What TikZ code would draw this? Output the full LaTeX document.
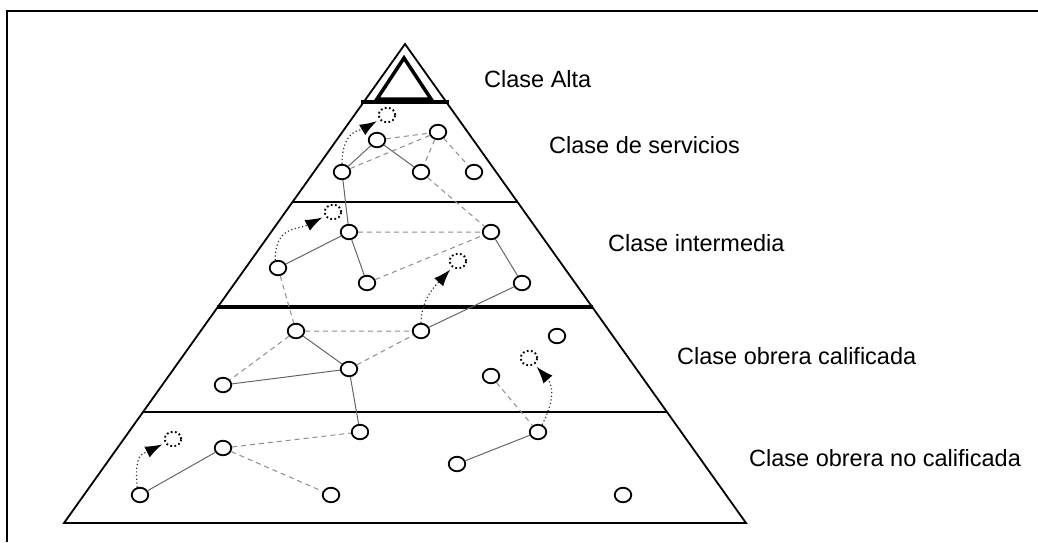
\documentclass[tikz,border=0pt]{standalone}
\usepackage{fontspec}
\setmainfont{Liberation Sans}
\usetikzlibrary{shapes.geometric, arrows.meta}
\tikzstyle{pers} = [draw,ellipse,line width=1.8pt,minimum width=16.5pt,minimum height=14.5pt,inner sep=0pt]
\tikzstyle{ghost} = [pers,line width=1.9pt,dash pattern=on 1.7pt off 2.5pt]
\tikzstyle{tie} = [draw=black!60,line width=1pt]
\tikzstyle{weak} = [draw=black!45,line width=1pt,dash pattern=on 5pt off 4pt]
\tikzstyle{move} = [draw=black!80,line width=1.2pt,dash pattern=on 1.2pt off 2.5pt,-{Latex[length=17pt,width=12pt,black]},shorten >=3pt]
\tikzstyle{clase} = [anchor=base west,inner sep=0pt,font=\fontsize{23.5}{28}\selectfont]

\begin{document}
\begin{tikzpicture}[x=1pt,y=-1pt]
  \useasboundingbox (0,0) rectangle (1038,542);
  % frame
  \draw[line width=2.4pt] (7,542)--(7,11)--(1038,11);
  % pyramid and strata
  \draw[line width=1.8pt] (405,44)--(746,523)--(64,523)--cycle;
  \draw[line width=3.5pt] (404,58)--(431,99)--(377,99)--cycle;
  \draw[line width=4pt] (361,102)--(449,102);
  \draw[line width=2pt] (293,201.5)--(517,201.5);
  \draw[line width=4pt] (217,307)--(593,307);
  \draw[line width=2pt] (143,411.5)--(667,411.5);
  % labels
  \node[clase] (alta) at (484,87.3) {Clase Alta};
  \node[clase] (serv) at (549,153) {Clase de servicios};
  \node[clase] (inter) at (608,251) {Clase intermedia};
  \node[clase] (calif) at (677,364) {Clase obrera calificada};
  \node[clase] (nocalif) at (749,466) {Clase obrera no calificada};
  % servicios
  \node[ghost] (g1) at (387,115) {};
  \node[pers] (s1) at (377,140) {};
  \node[pers] (s2) at (438,132) {};
  \node[pers] (s3) at (342,172) {};
  \node[pers] (s4) at (421,172) {};
  \node[pers] (s5) at (474,172) {};
  % intermedia
  \node[ghost] (g2) at (333,212) {};
  \node[pers] (i1) at (278,268) {};
  \node[pers] (i2) at (349,232) {};
  \node[pers] (i3) at (491,232) {};
  \node[pers] (i4) at (367,283) {};
  \node[pers] (i5) at (522,283) {};
  \node[ghost] (g3) at (458,261) {};
  % obrera calificada
  \node[pers] (c1) at (296,331) {};
  \node[pers] (c2) at (421,331) {};
  \node[pers] (c3) at (349,369) {};
  \node[pers] (c4) at (223,385) {};
  \node[pers] (c5) at (557,336) {};
  \node[ghost] (g4) at (529,358) {};
  \node[pers] (c6) at (491,376) {};
  % obrera no calificada
  \node[ghost] (g5) at (173,439) {};
  \node[pers] (n1) at (223,448) {};
  \node[pers] (n2) at (360,432) {};
  \node[pers] (n3) at (457,464) {};
  \node[pers] (n4) at (538,432) {};
  \node[pers] (n5) at (140,495) {};
  \node[pers] (n6) at (331,495) {};
  \node[pers] (n7) at (623,495) {};
  % ties
  \draw[tie] (s3)--(s1) (s1)--(s4) (s3)--(i2) (i1)--(i2) (i2)--(i4) (i3)--(i5)
    (i5)--(c2) (c1)--(c3) (c4)--(c3) (c3)--(n2) (n5)--(n1) (n3)--(n4);
  \draw[weak] (s1)--(s2) (s3)--(s2) (s2)--(s4) (s2)--(s5) (s4)--(i3) (i2)--(i3)
    (i4)--(i3) (i1)--(c1) (c1)--(c2) (c1)--(c4) (c3)--(c2) (c6)--(n4) (n1)--(n2) (n1)--(n6);
  % movements
  \draw[move] (s3.north) .. controls +(0,-35) and +(-25,15) .. (g1);
  \draw[move] (i1.110) .. controls +(0,-35) and +(-35,18) .. (g2);
  \draw[move] (c2.north) .. controls +(0,-25) and +(-20,22) .. (g3);
  \draw[move] (n4.60) .. controls +(15,-30) and +(22,25) .. (g4);
  \draw[move] (n5.110) .. controls +(-3,-35) and +(-30,15) .. (g5);
\end{tikzpicture}
\end{document}
